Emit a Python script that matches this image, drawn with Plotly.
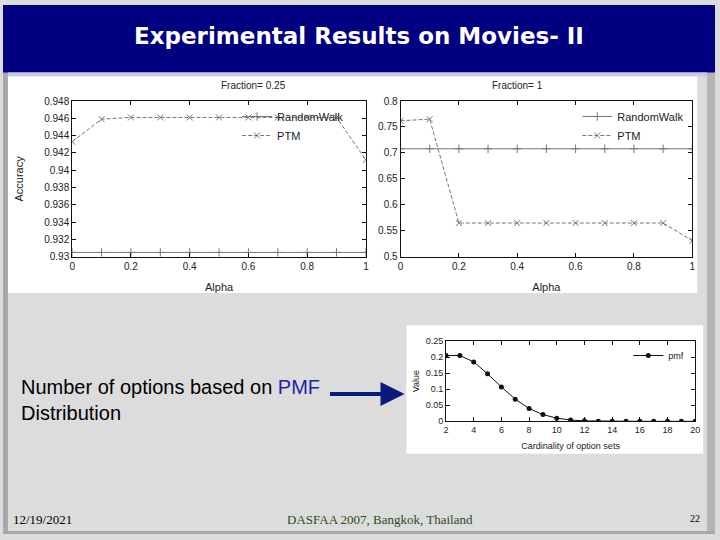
import plotly.graph_objects as go

# ---- data ----
alpha = [0, 0.1, 0.2, 0.3, 0.4, 0.5, 0.6, 0.7, 0.8, 0.9, 1.0]
rw_025 = [0.9305] * 11
ptm_025 = [0.9433, 0.9459, 0.9461, 0.9461, 0.9461, 0.9461, 0.9461, 0.9461, 0.9461, 0.9461, 0.9412]
rw_1 = [0.708] * 11
ptm_1 = [0.762, 0.765, 0.565, 0.565, 0.565, 0.565, 0.565, 0.565, 0.565, 0.565, 0.531]
card = list(range(2, 21))
pmf = [0.205, 0.205, 0.185, 0.148, 0.107, 0.069, 0.040, 0.021, 0.010, 0.004, 0.0015,
       0.0006, 0.0002, 0.0001, 0.0, 0.0, 0.0, 0.0, 0.0]

left_yticks = [0.93, 0.932, 0.934, 0.936, 0.938, 0.94, 0.942, 0.944, 0.946, 0.948]
right_yticks = [0.5, 0.55, 0.6, 0.65, 0.7, 0.75, 0.8]
alpha_ticks = [0, 0.2, 0.4, 0.6, 0.8, 1]
pmf_yticks = [0, 0.05, 0.1, 0.15, 0.2, 0.25]
pmf_xticks = list(range(2, 21, 2))

W, H = 720, 540
def px(x): return x / W
def py(y): return 1 - y / H

GF = "Liberation Sans, Arial, sans-serif"
SERIF = "Liberation Serif, Times New Roman, serif"
TXT = "#222222"
LINE = "#777777"
DASH = "4px,2px"

fig = go.Figure()

# left chart
fig.add_trace(go.Scatter(x=alpha, y=rw_025, name="RandomWalk", mode="lines+markers",
                         line=dict(color=LINE, width=1),
                         marker=dict(symbol="cross-thin", size=6, line=dict(color=LINE, width=1)),
                         xaxis="x", yaxis="y", legend="legend"))
fig.add_trace(go.Scatter(x=alpha, y=ptm_025, name="PTM", mode="lines+markers",
                         line=dict(color=LINE, width=1, dash=DASH),
                         marker=dict(symbol="x-thin", size=6, line=dict(color=LINE, width=1)),
                         xaxis="x", yaxis="y", legend="legend"))
# right chart
fig.add_trace(go.Scatter(x=alpha, y=rw_1, name="RandomWalk", mode="lines+markers",
                         line=dict(color=LINE, width=1),
                         marker=dict(symbol="cross-thin", size=6, line=dict(color=LINE, width=1)),
                         xaxis="x2", yaxis="y2", legend="legend2"))
fig.add_trace(go.Scatter(x=alpha, y=ptm_1, name="PTM", mode="lines+markers",
                         line=dict(color=LINE, width=1, dash=DASH),
                         marker=dict(symbol="x-thin", size=6, line=dict(color=LINE, width=1)),
                         xaxis="x2", yaxis="y2", legend="legend2"))
# pmf chart
fig.add_trace(go.Scatter(x=card, y=pmf, name="pmf", mode="lines+markers",
                         line=dict(color="#111111", width=1),
                         marker=dict(symbol="circle", size=5, color="#111111"),
                         xaxis="x3", yaxis="y3", legend="legend3"))

axis_common = dict(showline=True, linecolor="#111111", linewidth=1, mirror="ticks",
                   ticks="inside", ticklen=4, tickcolor="#111111", showgrid=False,
                   zeroline=False, tickfont=dict(family=GF, size=10, color=TXT))
small_tick = dict(family=GF, size=9, color=TXT)

fig.update_layout(
    width=W, height=H, margin=dict(l=0, r=0, t=0, b=0),
    paper_bgcolor="#dcdcdc", plot_bgcolor="white",
    xaxis=dict(domain=[px(70), px(367)], range=[0, 1], tickvals=alpha_ticks, anchor="y",
               title=dict(text="Alpha", font=dict(family=GF, size=11, color=TXT), standoff=12),
               **axis_common),
    yaxis=dict(domain=[py(257), py(98)], range=[0.93, 0.948], tickvals=left_yticks, anchor="x",
               title=dict(text="Accuracy", font=dict(family=GF, size=11, color=TXT), standoff=18),
               **axis_common),
    xaxis2=dict(domain=[px(402), px(697)], range=[0, 1], tickvals=alpha_ticks, anchor="y2",
                title=dict(text="Alpha", font=dict(family=GF, size=11, color=TXT), standoff=12),
                **axis_common),
    yaxis2=dict(domain=[py(257), py(98)], range=[0.5, 0.8], tickvals=right_yticks, anchor="x2",
                **axis_common),
    xaxis3=dict(domain=[px(448), px(700)], range=[2, 20], tickvals=pmf_xticks, anchor="y3",
                title=dict(text="Cardinality of option sets", font=dict(family=GF, size=9, color=TXT), standoff=8),
                **{**axis_common, "tickfont": small_tick}),
    yaxis3=dict(domain=[py(425), py(343)], range=[0, 0.25], tickvals=pmf_yticks, anchor="x3",
                title=dict(text="Value", font=dict(family=GF, size=9, color=TXT), standoff=4),
                **{**axis_common, "tickfont": small_tick}),
    legend=dict(x=px(350), y=py(99), xanchor="right", yanchor="top", bgcolor="rgba(0,0,0,0)",
                font=dict(family=GF, size=11, color=TXT), itemwidth=30, tracegroupgap=0),
    legend2=dict(x=px(694), y=py(99), xanchor="right", yanchor="top", bgcolor="rgba(0,0,0,0)",
                 font=dict(family=GF, size=11, color=TXT), itemwidth=30, tracegroupgap=0),
    legend3=dict(x=px(694), y=py(343), xanchor="right", yanchor="top", bgcolor="rgba(0,0,0,0)",
                 font=dict(family=GF, size=9, color=TXT), itemwidth=30, tracegroupgap=0),
    showlegend=True,
)

shapes = [
    # slide borders
    dict(type="rect", xref="paper", yref="paper", x0=0, x1=px(5), y0=0, y1=1,
         fillcolor="#a8a8a8", line=dict(width=0), layer="below"),
    dict(type="rect", xref="paper", yref="paper", x0=px(712), x1=1, y0=0, y1=1,
         fillcolor="#b4b4b4", line=dict(width=0), layer="below"),
    dict(type="rect", xref="paper", yref="paper", x0=0, x1=1, y0=0, y1=py(537),
         fillcolor="#a8a8a8", line=dict(width=0), layer="below"),
    # title bar
    dict(type="rect", xref="paper", yref="paper", x0=0, x1=1, y0=py(69), y1=1,
         fillcolor="#000080", line=dict(width=0), layer="below"),
    dict(type="rect", xref="paper", yref="paper", x0=px(5), x1=px(712), y0=py(73), y1=py(69),
         fillcolor="#c8c8e6", line=dict(width=0), layer="below"),
    # white image area for gnuplot charts
    dict(type="rect", xref="paper", yref="paper", x0=px(5), x1=px(702), y0=py(294), y1=py(73),
         fillcolor="white", line=dict(width=0), layer="below"),
    # white box for pmf chart
    dict(type="rect", xref="paper", yref="paper", x0=px(408), x1=px(708), y0=py(458), y1=py(327),
         fillcolor="white", line=dict(width=0), layer="below"),
]
fig.update_layout(shapes=shapes)

annotations = [
    dict(text="<b>Experimental Results on Movies- II</b>", x=px(360), y=py(32), xref="paper", yref="paper",
         xanchor="center", yanchor="middle",
         showarrow=False, font=dict(family="DejaVu Sans, Verdana, sans-serif", size=23, color="white")),
    dict(text="Fraction= 0.25", x=px(218), y=py(82), xref="paper", yref="paper", yanchor="middle",
         showarrow=False, font=dict(family=GF, size=10, color=TXT)),
    dict(text="Fraction= 1", x=px(548), y=py(82), xref="paper", yref="paper", yanchor="middle",
         showarrow=False, font=dict(family=GF, size=10, color=TXT)),
    dict(text="Number of options based on <span style='color:#1f1fa8'>PMF</span><br>Distribution",
         x=px(16), y=py(403), xref="paper", yref="paper", xanchor="left", yanchor="middle",
         align="left", showarrow=False, font=dict(family=GF, size=20, color="black")),
    dict(text="", x=px(406), y=py(397), ax=-76, ay=0, xref="paper", yref="paper",
         axref="pixel", ayref="pixel", showarrow=True, arrowhead=2, arrowsize=1.2,
         arrowwidth=4, arrowcolor="#0a1a7a"),
    dict(text="12/19/2021", x=px(8), y=py(525), xref="paper", yref="paper", xanchor="left",
         yanchor="middle", showarrow=False, font=dict(family=SERIF, size=13, color="black")),
    dict(text="DASFAA 2007, Bangkok, Thailand", x=px(381), y=py(525), xref="paper", yref="paper",
         xanchor="center", yanchor="middle",
         showarrow=False, font=dict(family=SERIF, size=13, color="#2e4a1e")),
    dict(text="22", x=px(707), y=py(524), xref="paper", yref="paper", xanchor="right",
         yanchor="middle", showarrow=False, font=dict(family=SERIF, size=10, color="black")),
]
fig.update_layout(annotations=annotations)

fig.write_html("out.html")
